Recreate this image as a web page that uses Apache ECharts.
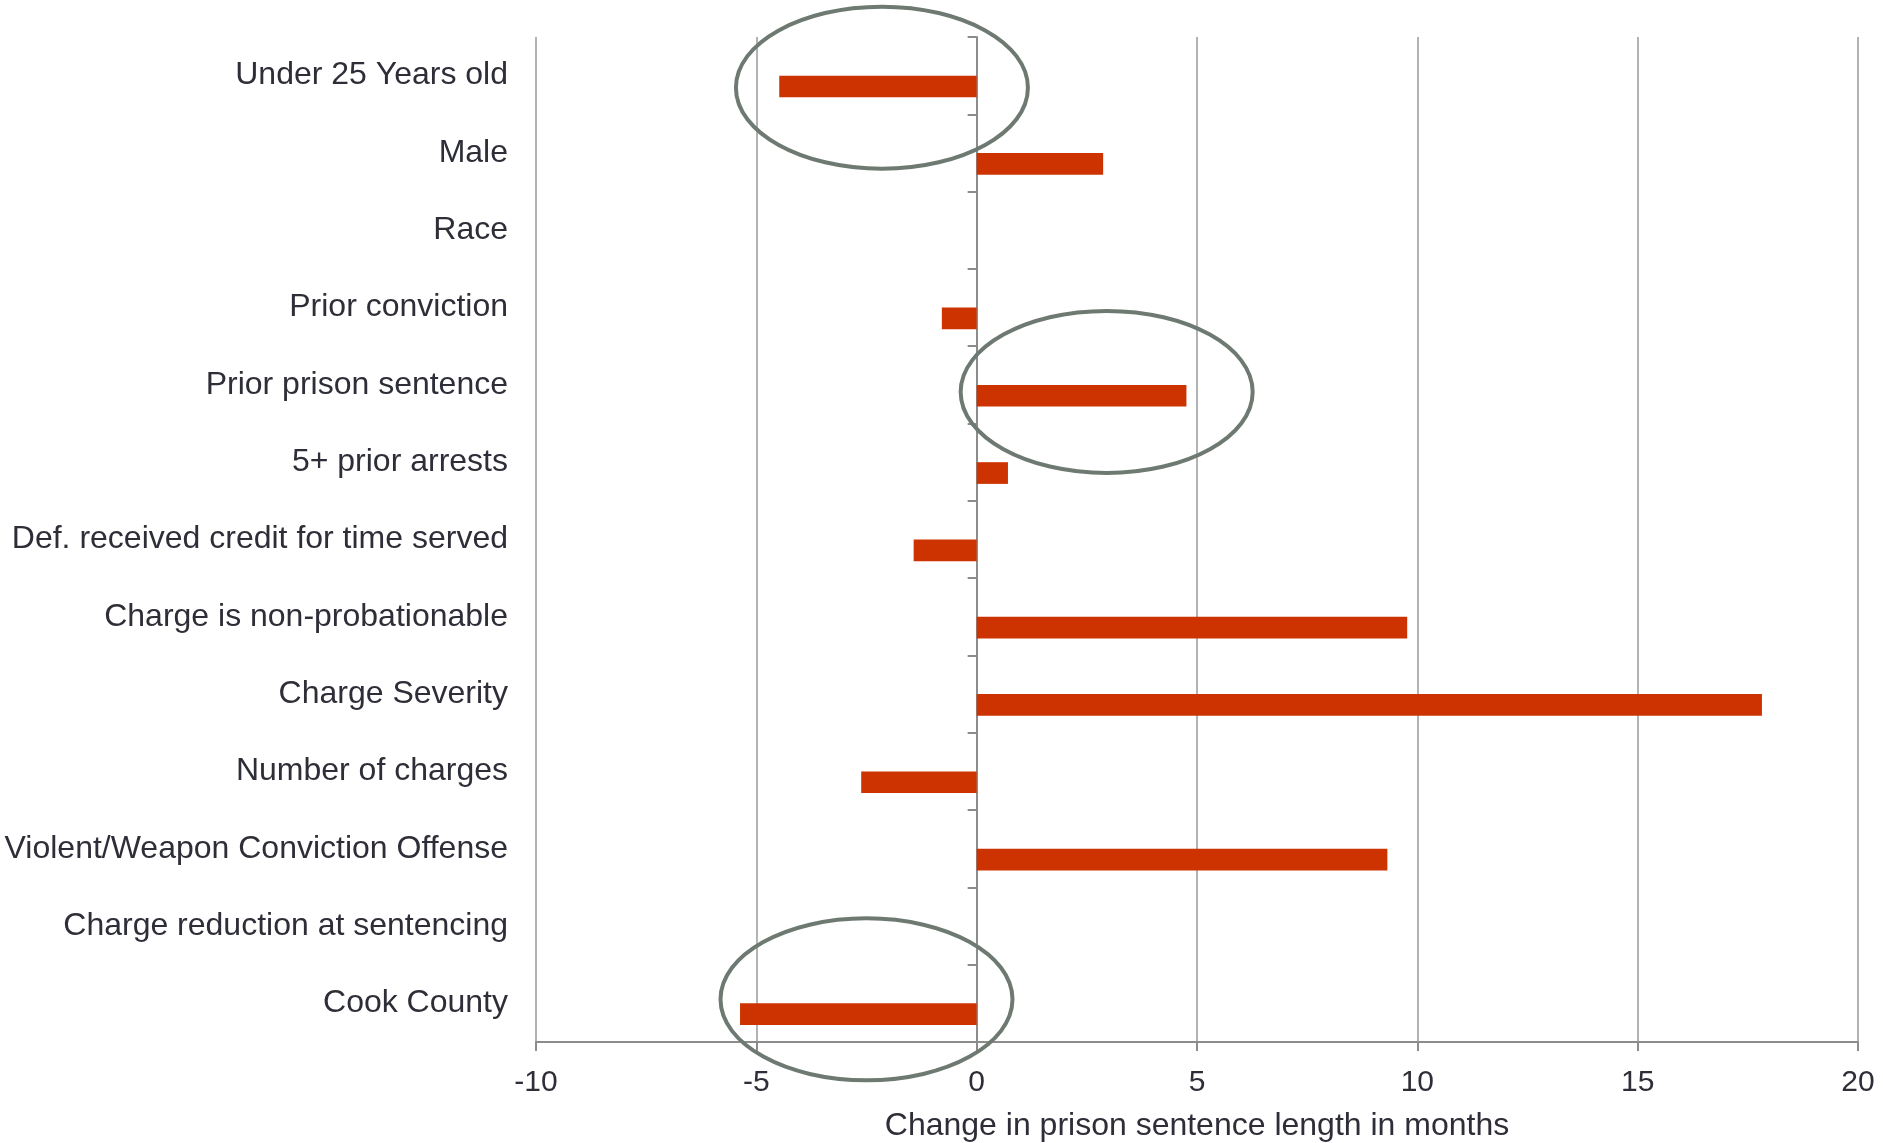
<!DOCTYPE html>
<html>
<head>
<meta charset="utf-8">
<script src="https://cdn.jsdelivr.net/npm/echarts@6/dist/echarts.min.js"></script>
<style>
html,body{margin:0;padding:0;background:#fff;}
#chart{width:1883px;height:1143px;}
</style>
</head>
<body>
<div id="chart"></div>
<script>
var categories = [
  'Under 25 Years old',
  'Male',
  'Race',
  'Prior conviction',
  'Prior prison sentence',
  '5+ prior arrests',
  'Def. received credit for time served',
  'Charge is non-probationable',
  'Charge Severity',
  'Number of charges',
  'Violent/Weapon Conviction Offense',
  'Charge reduction at sentencing',
  'Cook County'
];
var changeMonths = [-4.48, 2.87, null, -0.79, 4.76, 0.71, -1.43, 9.77, 17.82, -2.62, 9.32, null, -5.37];
var xTicks = { min: -10, max: 20, interval: 5 };
var axisTitle = 'Change in prison sentence length in months';
// highlighted categories (annotation ellipses): [centre value, category]
var highlights = [[-2.15, 'Under 25 Years old'], [2.95, 'Prior prison sentence'], [-2.5, 'Cook County']];

var FONT = '"Liberation Sans", Arial, sans-serif';
var TEXT = '#2e2e38';
var chart = echarts.init(document.getElementById('chart'), null, { renderer: 'canvas' });

var option = {
  backgroundColor: '#ffffff',
  animation: false,
  grid: { left: 536, right: 25, top: 37, bottom: 101, containLabel: false, outerBoundsMode: 'none' },
  xAxis: {
    type: 'value',
    min: xTicks.min, max: xTicks.max, interval: xTicks.interval,
    name: axisTitle,
    nameLocation: 'middle',
    nameGap: 68,
    nameTextStyle: { fontFamily: FONT, fontSize: 32, color: TEXT },
    axisLine: { show: true, onZero: false, lineStyle: { color: '#8c8c8c', width: 2 } },
    axisTick: { show: true, length: 9, lineStyle: { color: '#8c8c8c', width: 2 } },
    axisLabel: { fontFamily: FONT, fontSize: 30, color: TEXT, margin: 26 },
    splitLine: { show: true, lineStyle: { color: '#9a9a9a', width: 1.5 } }
  },
  yAxis: [{
    type: 'category',
    data: categories,
    inverse: true,
    position: 'left',
    axisLine: { show: false, onZero: false },
    axisTick: { show: false },
    axisLabel: { fontFamily: FONT, fontSize: 32, color: TEXT, margin: 28, padding: [6, 0, 0, 0] },
    splitLine: { show: false }
  }, {
    type: 'category',
    data: categories,
    inverse: true,
    position: 'left',
    axisLine: { show: true, onZero: true, lineStyle: { color: '#8c8c8c', width: 2 } },
    axisTick: { show: true, length: 9, lineStyle: { color: '#8c8c8c', width: 2 } },
    axisLabel: { show: false },
    splitLine: { show: false }
  }],
  series: [{
    name: 'spacer',
    type: 'bar',
    yAxisIndex: 0,
    data: [],
    barWidth: 21.7,
    barGap: '0%'
  }, {
    name: 'Change in months',
    type: 'bar',
    yAxisIndex: 0,
    data: changeMonths,
    barWidth: 21.7,
    barGap: '0%',
    itemStyle: { color: '#cc3300' }
  }]
};
chart.setOption(option);

var yOffsets = [12, 7, -4];
var graphics = highlights.map(function (h, i) {
  var p = chart.convertToPixel({ xAxisIndex: 0, yAxisIndex: 0 }, [h[0], h[1]]);
  return {
    type: 'ellipse',
    shape: { cx: p[0], cy: p[1] + yOffsets[i], rx: 146, ry: 81 },
    style: { fill: 'none', stroke: '#6e7a71', lineWidth: 4 },
    z: 100
  };
});
chart.setOption({ graphic: graphics });
</script>
</body>
</html>
